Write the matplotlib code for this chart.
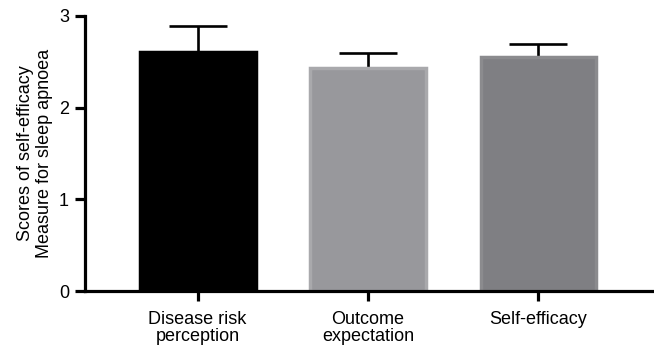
import matplotlib
matplotlib.use("Agg")
import matplotlib.pyplot as plt

# values
categories = ["Disease risk\nperception", "Outcome\nexpectation", "Self-efficacy"]
means = [2.61, 2.43, 2.555]
upper_err = [0.28, 0.17, 0.135]
fill_colors = ["#000000", "#98989c", "#7f7f83"]
edge_colors = ["#000000", "#a9a9ac", "#8b8b8e"]

plt.rcParams["font.family"] = ["Liberation Sans", "DejaVu Sans"]
plt.rcParams["font.size"] = 13

fig = plt.figure(figsize=(6.54, 3.52), dpi=100)
ax = fig.add_axes([0.130, 0.173, 0.867, 0.782])

x = list(range(len(categories)))
ax.bar(x, means, width=0.68, color=fill_colors, edgecolor=edge_colors,
       linewidth=2.5, zorder=2)
ax.errorbar(x, means, yerr=[[0] * len(means), upper_err], fmt="none",
            ecolor="black", elinewidth=1.9, capsize=21, capthick=1.9, zorder=1)

ax.set_xlim(-0.66, 2.666)
ax.set_ylim(0, 3)
ax.set_yticks([0, 1, 2, 3])
ax.set_xticks(x)
ax.set_xticklabels(categories, linespacing=0.95)
ax.set_ylabel("Scores of self-efficacy\nMeasure for sleep apnoea", linespacing=1.15,
              labelpad=4)

for side in ["top", "right"]:
    ax.spines[side].set_visible(False)
for side in ["left", "bottom"]:
    ax.spines[side].set_linewidth(2.3)
    ax.spines[side].set_capstyle("projecting")
ax.tick_params(axis="both", width=2.3, length=7.5, color="black")
ax.tick_params(axis="x", pad=7)
ax.tick_params(axis="y", pad=4)

fig.savefig("out.png", dpi=100)
